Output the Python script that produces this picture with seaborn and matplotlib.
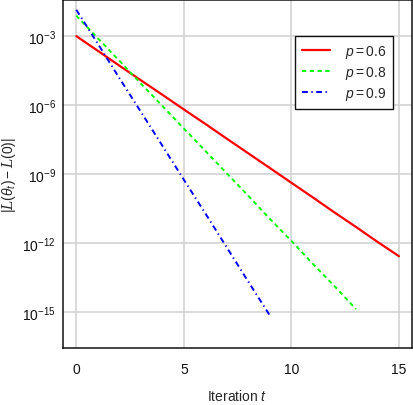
import numpy as np
import pandas as pd
import matplotlib
matplotlib.use("Agg")
import matplotlib.pyplot as plt
import seaborn as sns

# values (log-scale y)
t_06 = list(range(16))
loss_06 = [1.0e-3, 2.3e-4, 5.2e-5, 1.2e-5, 2.8e-6, 6.4e-7, 1.5e-7, 3.4e-8,
           7.8e-9, 1.8e-9, 4.1e-10, 9.4e-11, 2.1e-11, 4.9e-12, 1.1e-12, 2.6e-13]

t_08 = list(range(14))
loss_08 = [7.8e-3, 8.1e-4, 8.5e-5, 8.7e-6, 9.1e-7, 9.5e-8, 1.0e-8, 1.05e-9,
           1.1e-10, 1.1e-11, 1.2e-12, 1.2e-13, 1.3e-14, 1.3e-15]

t_09 = list(range(10))
loss_09 = [1.4e-2, 4.7e-4, 1.5e-5, 5.1e-7, 1.7e-8, 5.6e-10, 1.9e-11, 6.2e-13,
           2.0e-14, 6.8e-16]

labels = [r"$p = 0.6$", r"$p = 0.8$", r"$p = 0.9$"]
x_ticks = [0, 5, 10, 15]
y_ticks = [1e-3, 1e-6, 1e-9, 1e-12, 1e-15]

sns.set_theme(style="whitegrid")
plt.rcParams["font.family"] = ["Liberation Sans", "DejaVu Sans"]
plt.rcParams["mathtext.fontset"] = "custom"
plt.rcParams["mathtext.rm"] = "Liberation Sans"
plt.rcParams["mathtext.it"] = "Liberation Sans:italic"
plt.rcParams["mathtext.cal"] = "DejaVu Serif:italic"

fig = plt.figure(figsize=(4.14, 4.06), dpi=100)
ax = fig.add_axes([0.152, 0.1404, 0.843, 0.857])

df06 = pd.DataFrame({"t": t_06, "loss": loss_06})
df08 = pd.DataFrame({"t": t_08, "loss": loss_08})
df09 = pd.DataFrame({"t": t_09, "loss": loss_09})

sns.lineplot(data=df06, x="t", y="loss", ax=ax, color="#FF0000", lw=1.6,
             label=labels[0])
sns.lineplot(data=df08, x="t", y="loss", ax=ax, color="#00FF00", lw=1.4,
             label=labels[1])
sns.lineplot(data=df09, x="t", y="loss", ax=ax, color="#0000FF", lw=1.4,
             label=labels[2])
ax.lines[1].set_linestyle((0, (2.2, 1.8)))
ax.lines[2].set_linestyle((0, (3, 1.8, 0.7, 1.8)))

ax.set_yscale("log")
ax.set_xlim(-0.62, 15.6)
ax.set_ylim(10 ** -16.58, 10 ** -1.43)
ax.set_xticks(x_ticks)
ax.set_yticks(y_ticks)
ax.minorticks_off()

ax.grid(True, color="#d3d3d3", lw=1.2)
for s in ax.spines.values():
    s.set_color("#111111")
    s.set_linewidth(1.1)
    s.set_visible(True)
ax.tick_params(axis="both", direction="in", length=6, width=1.5,
               color="#333333", labelsize=10, labelcolor="#111111")
ax.tick_params(axis="x", pad=10)
ax.tick_params(axis="y", pad=5)

ax.set_xlabel(r"Iteration $t$", fontsize=10, labelpad=9)
ax.set_ylabel(r"$|\mathcal{L}(\theta_t) - \mathcal{L}(0)|$", fontsize=10)
ax.yaxis.set_label_coords(-0.128, 0.5)

leg = ax.legend(loc="upper right", bbox_to_anchor=(0.946, 0.897),
                fontsize=10, frameon=True, fancybox=False,
                handlelength=2.0, borderpad=0.5, labelspacing=0.3,
                handletextpad=1.05, borderaxespad=0)
leg.get_frame().set_edgecolor("#111111")
leg.get_frame().set_linewidth(1.0)
leg.get_frame().set_alpha(1)

fig.savefig("out.png", dpi=100)
